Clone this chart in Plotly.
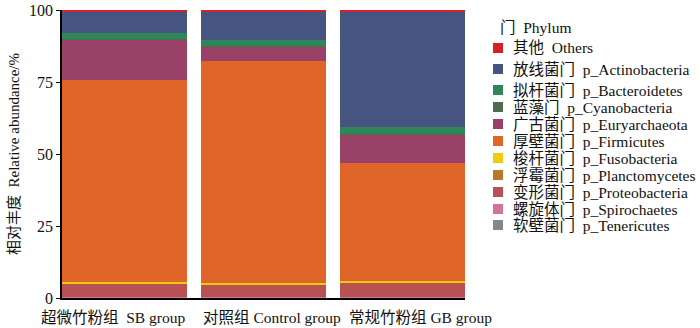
import plotly.graph_objects as go

NB = "\u00a0"  # keeps double spacing between Chinese and English parts

# Groups (x categories)
groups = ["超微竹粉组" + NB * 2 + "SB group", "对照组" + NB + "Control group", "常规竹粉组" + NB + "GB group"]

# Phyla listed from the bottom of the stack to the top
phyla = [
    "软壁菌门" + NB * 2 + "p_Tenericutes",
    "螺旋体门" + NB * 2 + "p_Spirochaetes",
    "变形菌门" + NB * 2 + "p_Proteobacteria",
    "浮霉菌门" + NB * 2 + "p_Planctomycetes",
    "梭杆菌门" + NB * 2 + "p_Fusobacteria",
    "厚壁菌门" + NB * 2 + "p_Firmicutes",
    "广古菌门" + NB * 2 + "p_Euryarchaeota",
    "蓝藻门" + NB * 2 + "p_Cyanobacteria",
    "拟杆菌门" + NB * 2 + "p_Bacteroidetes",
    "放线菌门" + NB * 2 + "p_Actinobacteria",
    "其他" + NB * 2 + "Others",
]

# Relative abundance (%) per phylum, one value per group
tenericutes = [0.2, 0.2, 0.2]
spirochaetes = [0.3, 0.3, 0.3]
proteobacteria = [4.4, 4.1, 4.8]
planctomycetes = [0.1, 0.1, 0.1]
fusobacteria = [0.5, 0.5, 0.5]
firmicutes = [70.2, 77.0, 41.1]
euryarchaeota = [14.1, 5.1, 9.9]
cyanobacteria = [0.2, 0.2, 0.2]
bacteroidetes = [1.9, 2.0, 2.4]
actinobacteria = [7.4, 9.8, 39.9]
others = [0.7, 0.7, 0.6]

series = [tenericutes, spirochaetes, proteobacteria, planctomycetes, fusobacteria,
          firmicutes, euryarchaeota, cyanobacteria, bacteroidetes, actinobacteria, others]

colors = ["#85878c", "#d47399", "#b85252", "#b87a2a", "#f0cc10",
          "#e06528", "#9a4168", "#4f6b50", "#2e8758", "#45557f", "#d42228"]

serif = "Liberation Serif, Times New Roman, Noto Sans CJK SC, serif"

W, H = 700, 328
ML, MR, MT, MB = 62, 235, 10, 30
PW, PH = W - ML - MR, H - MT - MB
BARGAP = 0.1
HALF = (1 - BARGAP) / 2  # half bar width in category units


def px_to_paper(px, py):
    return (px - ML) / PW, (H - MB - py) / PH


fig = go.Figure()
xs = list(range(len(groups)))
for name, vals, col in zip(phyla, series, colors):
    fig.add_trace(go.Bar(
        x=xs, y=vals, name=name,
        marker=dict(color=col, line=dict(width=0)),
        showlegend=False,
    ))

shapes, annotations = [], []

# Group labels under the bars: first one ends at its bar's right edge,
# the others start at their bar's left edge
label_anchor = [(0 + HALF, "right"), (1 - HALF, "left"), (2 - HALF + 0.05, "left")]
for text, (ax, anc) in zip(groups, label_anchor):
    annotations.append(dict(x=ax, y=-0.066, xref="x", yref="paper", text=text,
                            showarrow=False, xanchor=anc, yanchor="middle",
                            font=dict(size=15.5, family=serif, color="#111")))

# Legend drawn as swatches + labels, top entry = top of the stack
tx, ty = px_to_paper(498, 27)
annotations.append(dict(x=tx, y=ty, xref="paper", yref="paper", text="门" + NB * 2 + "Phylum",
                        showarrow=False, xanchor="left", yanchor="middle",
                        font=dict(size=15.5, family=serif, color="#111")))
row_y = [48, 69, 90, 107, 124, 141, 158, 175, 192, 209, 225]
for cy, name, col in zip(row_y, reversed(phyla), reversed(colors)):
    x0, y0 = px_to_paper(493, cy + 5)
    x1, y1 = px_to_paper(503, cy - 5)
    shapes.append(dict(type="rect", xref="paper", yref="paper", x0=x0, x1=x1, y0=y0, y1=y1,
                       fillcolor=col, line=dict(width=0)))
    lx, ly = px_to_paper(511, cy)
    annotations.append(dict(x=lx, y=ly, xref="paper", yref="paper", text=name,
                            showarrow=False, xanchor="left", yanchor="middle",
                            font=dict(size=15.5, family=serif, color="#111")))

fig.update_layout(
    barmode="stack",
    bargap=BARGAP,
    width=W, height=H,
    margin=dict(l=ML, r=MR, t=MT, b=MB, autoexpand=False),
    plot_bgcolor="white", paper_bgcolor="white",
    font=dict(family=serif, size=15, color="#111"),
    showlegend=False,
    shapes=shapes,
    annotations=annotations,
    xaxis=dict(
        range=[-HALF, len(groups) - 1 + HALF], automargin=False,
        showticklabels=False,
        showline=True, linecolor="black", linewidth=1.5,
        ticks="", showgrid=False, zeroline=False,
    ),
    yaxis=dict(
        range=[0, 100], automargin=False,
        tickvals=[0, 25, 50, 75, 100],
        showline=True, linecolor="black", linewidth=1.5,
        ticks="outside", ticklen=4, tickcolor="black",
        tickfont=dict(size=16),
        showgrid=False, zeroline=False,
        title=dict(text="相对丰度" + NB * 2 + "Relative abundance/%", font=dict(size=15), standoff=6),
    ),
)

fig.write_html("out.html")
